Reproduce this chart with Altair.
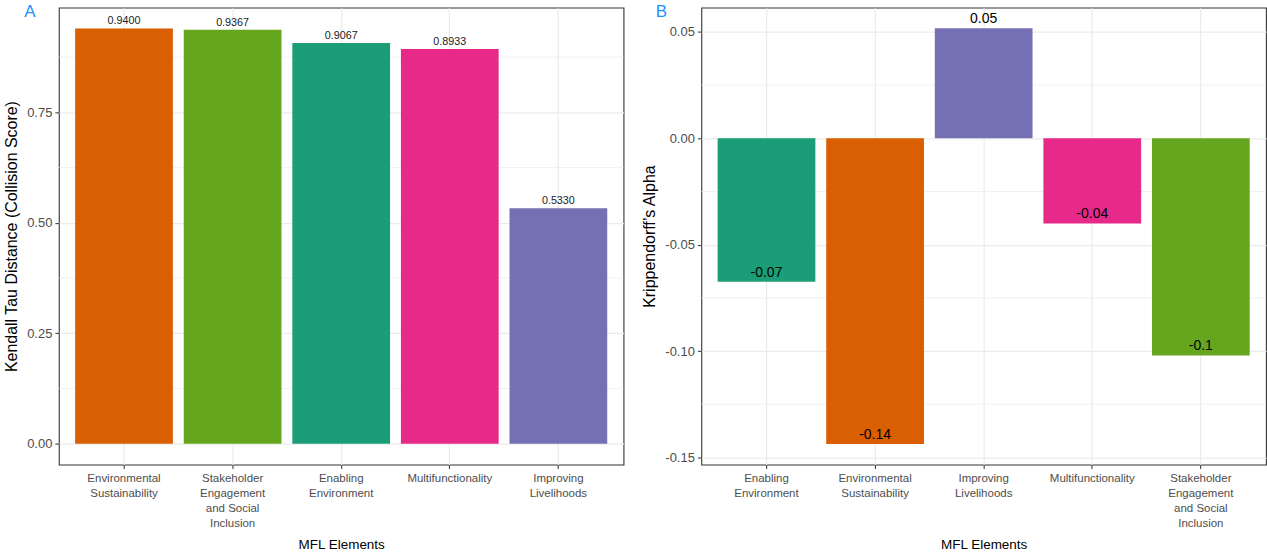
import altair as alt
import pandas as pd

# Panel A: Kendall tau distance per MFL element (sorted, highest first)
a_elements = [
    "Environmental Sustainability",
    "Stakeholder Engagement and Social Inclusion",
    "Enabling Environment",
    "Multifunctionality",
    "Improving Livelihoods",
]
a_values = [0.9400, 0.9367, 0.9067, 0.8933, 0.5330]

# Panel B: Krippendorff's alpha per MFL element (alphabetical)
b_elements = [
    "Enabling Environment",
    "Environmental Sustainability",
    "Improving Livelihoods",
    "Multifunctionality",
    "Stakeholder Engagement and Social Inclusion",
]
b_values = [-0.0674, -0.1436, 0.0517, -0.0400, -0.1020]

# Wrapped tick labels
wrapped = {
    "Environmental Sustainability": ["Environmental", "Sustainability"],
    "Stakeholder Engagement and Social Inclusion": ["Stakeholder", "Engagement", "and Social", "Inclusion"],
    "Enabling Environment": ["Enabling", "Environment"],
    "Multifunctionality": ["Multifunctionality"],
    "Improving Livelihoods": ["Improving", "Livelihoods"],
}

# Dark2 colours per element
palette_domain = [
    "Enabling Environment",
    "Environmental Sustainability",
    "Improving Livelihoods",
    "Multifunctionality",
    "Stakeholder Engagement and Social Inclusion",
]
palette_range = ["#1B9E77", "#D95F02", "#7570B3", "#E7298A", "#66A61E"]

a_major = [0.0, 0.25, 0.5, 0.75]
a_minor = [0.125, 0.375, 0.625, 0.875]
b_major = [-0.15, -0.10, -0.05, 0.0, 0.05]
b_minor = [-0.125, -0.075, -0.025, 0.025]

FONT = "Liberation Sans"
MINUS = "\u2212"


def label_expr():
    expr = "datum.label"
    for key, lines in wrapped.items():
        arr = "[" + ",".join("'" + s + "'" for s in lines) + "]"
        expr = f"datum.label == '{key}' ? {arr} : ({expr})"
    return expr


def panel(elements, values, major, minor, domain, fmt, tick_fmt, text_size, text_color,
          ytitle, letter, letter_x):
    df = pd.DataFrame({"element": elements, "value": values})
    x = alt.X(
        "element:N",
        sort=elements,
        scale=alt.Scale(paddingInner=0.1, paddingOuter=0.15),
        axis=alt.Axis(
            title="MFL Elements",
            labelAngle=0,
            labelExpr=label_expr(),
            labelLineHeight=15,
            labelPadding=4,
            titlePadding=9,
            bandPosition=0.5,
            labelBaseline="top",
        ),
    )
    y_scale = alt.Scale(domain=domain, nice=False, zero=False)
    base = alt.Chart(df)

    minor_df = pd.DataFrame({"g": minor})
    minor_grid = alt.Chart(minor_df).mark_rule(color="#EBEBEB", strokeWidth=0.7).encode(
        y=alt.Y("g:Q", scale=y_scale)
    )

    bars = base.mark_bar().encode(
        x=x,
        y=alt.Y(
            "value:Q",
            scale=y_scale,
            axis=alt.Axis(
                title=ytitle,
                titleFontSize=16,
                labelFontSize=13,
                values=major,
                labelExpr=f"replace(format(datum.value, '{tick_fmt}'), '{MINUS}', '-')",
                labelPadding=3,
                titlePadding=7,
            ),
        ),
        y2=alt.datum(0),
        color=alt.Color(
            "element:N",
            scale=alt.Scale(domain=palette_domain, range=palette_range),
            legend=None,
        ),
    )

    labels = base.transform_calculate(
        lab=f"replace(format(datum.value, '{fmt}'), '{MINUS}', '-')"
    ).mark_text(
        baseline="bottom", dy=-2, fontSize=text_size, color=text_color, font=FONT
    ).encode(
        x=alt.X("element:N", sort=elements),
        y=alt.Y("value:Q", scale=y_scale),
        text="lab:N",
    )

    tag = alt.Chart(pd.DataFrame({"panel": [letter]})).mark_text(
        fontSize=17, color="#1E90FF", font=FONT, baseline="middle", align="center"
    ).encode(x=alt.value(letter_x), y=alt.value(4), text="panel:N")

    return alt.layer(minor_grid, bars, labels, tag).properties(width=566, height=458)


chart_a = panel(a_elements, a_values, a_major, a_minor, [-0.047, 0.987],
                ".4f", ".2f", 10.8, "#222222",
                "Kendall Tau Distance (Collision Score)", "A", -29)
chart_b = panel(b_elements, b_values, b_major, b_minor, [-0.1533, 0.0614],
                ".2~f", ".2f", 14, "#000000",
                "Krippendorff\u2019s Alpha", "B", -40)

chart = alt.hconcat(chart_a, chart_b, spacing=16).properties(
    padding={"left": 3, "top": 1, "right": 0, "bottom": 0}
).configure(font=FONT).configure_view(
    stroke="#333333", strokeWidth=1.1
).configure_axis(
    domain=False,
    grid=True,
    gridColor="#EBEBEB",
    gridWidth=1.2,
    tickColor="#333333",
    tickSize=4,
    tickWidth=1,
    labelColor="#4D4D4D",
    labelFontSize=11.5,
    labelFont=FONT,
    titleFont=FONT,
    titleFontSize=13.5,
    titleFontWeight="normal",
    titleColor="#000000",
)

chart.save("out.html", embed_options={"renderer": "svg", "actions": False})
